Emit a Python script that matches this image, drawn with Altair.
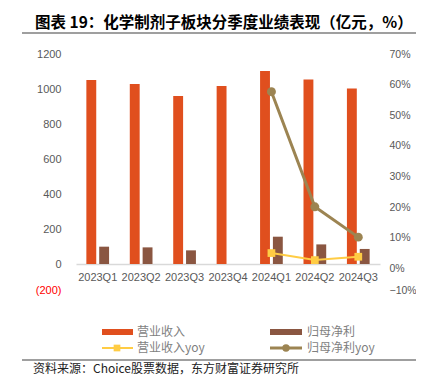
import altair as alt
import pandas as pd

quarters = ["2023Q1", "2023Q2", "2023Q3", "2023Q4", "2024Q1", "2024Q2", "2024Q3"]
revenue = [1051, 1029, 960, 1017, 1103, 1055, 1003]
net_profit = [99, 95, 78, None, 156, 112, 86]
revenue_yoy = [None, None, None, None, 5.0, 2.7, 3.8]
net_profit_yoy = [None, None, None, None, 57.7, 20.1, 10.2]

bar_names = ["营业收入", "归母净利"]
line_names = ["营业收入yoy", "归母净利yoy"]
bar_colors = ["#E04F1E", "#8A5641"]
line_colors = ["#FFCC44", "#9C8452"]

title_text = "图表 19：化学制剂子板块分季度业绩表现（亿元，%）"
source_text = "资料来源：Choice股票数据，东方财富证券研究所"

bars_df = pd.DataFrame({
    "quarter": quarters * 2,
    "series": [bar_names[0]] * 7 + [bar_names[1]] * 7,
    "value": revenue + net_profit,
})
lines_df = pd.DataFrame({
    "quarter": quarters * 2,
    "series": [line_names[0]] * 7 + [line_names[1]] * 7,
    "value": [v / 100 if v is not None else None for v in revenue_yoy + net_profit_yoy],
}).dropna()

W, H = 304, 245
FONT = "Liberation Sans"
CJK = "Noto Sans CJK SC"
GRAY = "#595959"

x_enc = alt.X("quarter:N", sort=quarters,
              scale=alt.Scale(paddingInner=0.477, paddingOuter=0.2386),
              axis=alt.Axis(title=None, labelAngle=0, offset=-35, domainColor="#D9D9D9",
                            domainWidth=1.5, ticks=False, labelColor=GRAY, labelFont=FONT,
                            labelFontSize=11, labelPadding=7))

bars = alt.Chart(bars_df).mark_bar().encode(
    x=x_enc,
    xOffset=alt.XOffset("series:N", sort=bar_names,
                        scale=alt.Scale(paddingInner=0.23, paddingOuter=0)),
    y=alt.Y("value:Q", scale=alt.Scale(domain=[-200, 1200], nice=False, zero=False),
            axis=alt.Axis(title=None, values=[-200, 0, 200, 400, 600, 800, 1000, 1200],
                          domain=False, ticks=False, grid=False, labelFont=FONT,
                          labelFontSize=11, labelPadding=15,
                          labelExpr="datum.value < 0 ? '(' + format(-datum.value, 'd') + ')' : format(datum.value, 'd')",
                          labelOffset=alt.condition("datum.value < 0", alt.value(-9), alt.value(0)),
                          labelColor=alt.condition("datum.value < 0", alt.value("#FF0000"), alt.value(GRAY)))),
    color=alt.Color("series:N", scale=alt.Scale(domain=bar_names, range=bar_colors), legend=None),
)

lines = alt.Chart(lines_df).encode(
    x=alt.X("quarter:N", sort=quarters),
    y=alt.Y("value:Q", scale=alt.Scale(domain=[-0.1, 0.7], nice=False, zero=False),
            axis=alt.Axis(title=None, orient="right",
                          values=[-0.1, 0, 0.1, 0.2, 0.3, 0.4, 0.5, 0.6, 0.7],
                          labelExpr="format(datum.value * 100, 'd') + '%'",
                          domain=False, ticks=False, grid=False, labelFont=FONT,
                          labelFontSize=10.5, labelColor=GRAY, labelPadding=9,
                          labelOffset=alt.condition("datum.value < 0", alt.value(-9), alt.value(0)))),
    color=alt.Color("series:N", scale=alt.Scale(domain=line_names, range=line_colors), legend=None),
)
rev_line = lines.transform_filter(alt.datum.series == line_names[0]).mark_line(strokeWidth=2)
rev_pts = lines.transform_filter(alt.datum.series == line_names[0]).mark_square(size=60, opacity=1)
np_line = lines.transform_filter(alt.datum.series == line_names[1]).mark_line(strokeWidth=3)
np_pts = lines.transform_filter(alt.datum.series == line_names[1]).mark_circle(size=80, opacity=1)

data_layer = alt.layer(bars, alt.layer(rev_line, rev_pts, np_line, np_pts)).resolve_scale(
    y="independent", color="independent")

# annotations (title, rules, legend, source), positioned in pixels
ann = alt.Chart(pd.DataFrame({"k": [0]}))

def txt(s, x, y, size, color, weight="normal", font=CJK):
    return ann.mark_text(text=s, align="left", baseline="middle", fontSize=size, color=color,
                         fontWeight=weight, font=font).encode(x=alt.value(x), y=alt.value(y))

def hrule(x1, x2, y, color, width):
    return ann.mark_rule(color=color, strokeWidth=width).encode(
        x=alt.value(x1), x2=alt.value(x2), y=alt.value(y))

title = txt(title_text, -41, -31, 15.5, "#000000", "bold")
top_rule = hrule(-54, 348, -21, "#404040", 1.2)
top_rule2 = hrule(-76, -72, -21, "#404040", 1.2)
bot_rule = hrule(-54, 348, 306, "#404040", 1.2)
bot_rule2 = hrule(-76, -72, 306, "#404040", 1.2)
source = txt(source_text, -43, 315, 12, "#222222")

LEG = "#7F7F7F"
LS = 12
R1, R2 = 278, 294
leg = [
    hrule(26, 57, R1, bar_colors[0], 6),
    txt(bar_names[0], 61, R1, LS, LEG),
    hrule(194, 226, R1, bar_colors[1], 6),
    txt(bar_names[1], 231, R1, LS, LEG),
    hrule(26, 57, R2, line_colors[0], 2),
    ann.mark_square(size=45, color=line_colors[0], opacity=1).encode(x=alt.value(41), y=alt.value(R2)),
    txt(line_names[0], 61, R2, LS, LEG),
    hrule(194, 226, R2, line_colors[1], 3),
    ann.mark_circle(size=55, color=line_colors[1], opacity=1).encode(x=alt.value(210), y=alt.value(R2)),
    txt(line_names[1], 231, R2, LS, LEG),
]

chart = alt.layer(
    data_layer,
    title, top_rule, top_rule2, bot_rule, bot_rule2, source, *leg,
).properties(
    width=W, height=H,
    padding={"left": 68, "top": 46, "right": 36, "bottom": 84},
    autosize=alt.AutoSizeParams(type="none"),
).configure_view(stroke=None)

chart.save("out.html", embed_options={"renderer": "svg", "actions": False})
